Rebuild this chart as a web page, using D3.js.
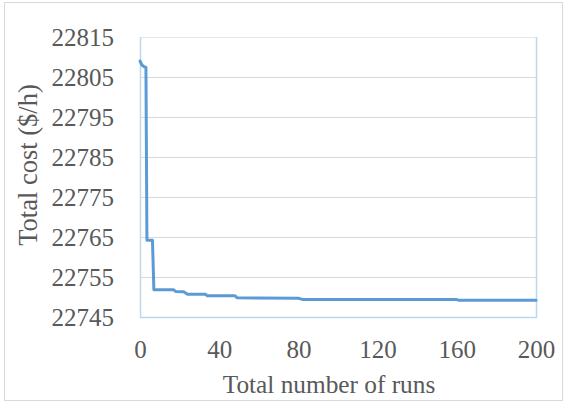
<!DOCTYPE html>
<html>
<head>
<meta charset="utf-8">
<script src="https://cdn.jsdelivr.net/npm/d3@7"></script>
<style>
  body { margin: 0; background: #fff; }
</style>
</head>
<body>
<svg id="chart" width="567" height="403"></svg>
<script>
// convergence data (run, total cost)
var runs = [0, 1, 2, 3, 3.5, 6.3, 7, 17, 18, 22, 24, 33, 34, 48, 49, 80, 82, 160, 161, 200];
var costs = [22809, 22808, 22807.6, 22807.4, 22764.2, 22764.2, 22751.8, 22751.8, 22751.4, 22751.3,
             22750.7, 22750.7, 22750.3, 22750.3, 22749.8, 22749.7, 22749.4, 22749.35, 22749.2, 22749.2];
var yTicks = [22745, 22755, 22765, 22775, 22785, 22795, 22805, 22815];
var xTicks = [0, 40, 80, 120, 160, 200];

var svg = d3.select("#chart");
var serif = "'Liberation Serif'";
var textColor = "#595959";

var plot = { left: 140, right: 536, top: 37, bottom: 317 };

var x = d3.scaleLinear().domain([0, 200]).range([plot.left, plot.right]);
var y = d3.scaleLinear().domain([22745, 22815]).range([plot.bottom, plot.top]);

// outer border
svg.append("rect")
    .attr("x", 4.5).attr("y", 2.5)
    .attr("width", 558).attr("height", 398)
    .attr("fill", "none")
    .attr("stroke", "#d9d9d9");

// gridlines
svg.append("g").selectAll("line")
    .data(yTicks.slice(1))
    .enter().append("line")
    .attr("x1", plot.left).attr("x2", plot.right)
    .attr("y1", function(d) { return Math.round(y(d)) + 0.5; })
    .attr("y2", function(d) { return Math.round(y(d)) + 0.5; })
    .attr("stroke", "#d9d9d9")
    .attr("stroke-width", 1);

// plot frame
svg.append("rect")
    .attr("x", plot.left + 0.5).attr("y", plot.top + 0.5)
    .attr("width", plot.right - plot.left).attr("height", plot.bottom - plot.top)
    .attr("fill", "none")
    .attr("stroke", "#deebf7");
svg.append("path")
    .attr("d", "M" + (plot.left + 0.5) + "," + plot.top + "V" + (plot.bottom + 0.5) + "H" + (plot.right + 0.5) + "V" + plot.top)
    .attr("fill", "none")
    .attr("stroke", "#bdd7ee")
    .attr("stroke-width", 1.5);

// y axis labels
var yAxis = d3.axisLeft(y).tickValues(yTicks).tickSize(0).tickPadding(26).tickFormat(d3.format("d"));
var gy = svg.append("g").attr("transform", "translate(" + plot.left + ",0)").call(yAxis);
gy.select(".domain").remove();
gy.selectAll("text")
    .style("font-family", serif)
    .style("font-size", "25px")
    .style("fill", textColor);

// x axis labels
var xAxis = d3.axisBottom(x).tickValues(xTicks).tickSize(0).tickPadding(23);
var gx = svg.append("g").attr("transform", "translate(0," + plot.bottom + ")").call(xAxis);
gx.select(".domain").remove();
gx.selectAll("text")
    .style("font-family", serif)
    .style("font-size", "25px")
    .style("fill", textColor);

// line
var line = d3.line()
    .x(function(d, i) { return x(runs[i]); })
    .y(function(d) { return y(d); });

svg.append("path")
    .datum(costs)
    .attr("d", line)
    .attr("fill", "none")
    .attr("stroke", "#5b9bd5")
    .attr("stroke-width", 3)
    .attr("stroke-linejoin", "round")
    .attr("stroke-linecap", "round");

// axis titles
svg.append("text")
    .attr("x", 329).attr("y", 393)
    .attr("text-anchor", "middle")
    .style("font-family", serif)
    .style("font-size", "25.3px")
    .style("fill", textColor)
    .text("Total number of runs");

svg.append("text")
    .attr("transform", "translate(37,165) rotate(-90)")
    .attr("text-anchor", "middle")
    .style("font-family", serif)
    .style("font-size", "26.5px")
    .style("fill", textColor)
    .text("Total cost ($/h)");
</script>
</body>
</html>
